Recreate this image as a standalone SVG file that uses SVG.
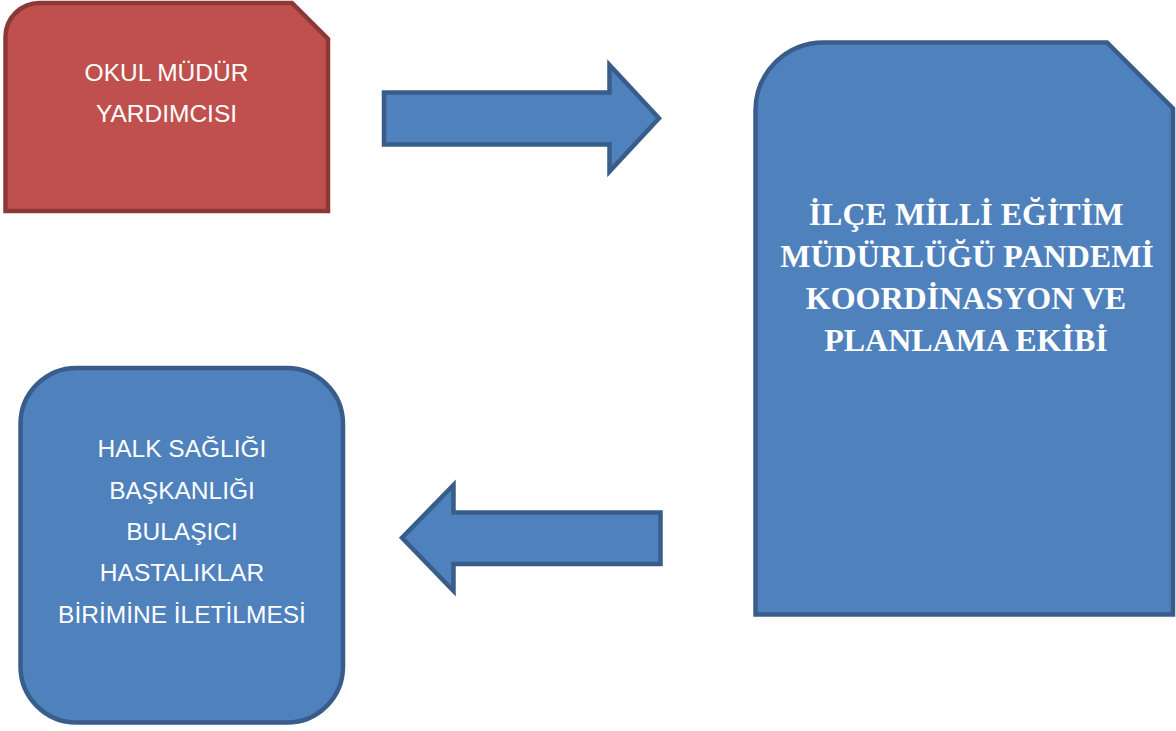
<svg xmlns="http://www.w3.org/2000/svg" width="1176" height="731" viewBox="0 0 1176 731">
<style>
.red{fill:#C0504D;stroke:#8C3836;stroke-width:4.5;stroke-linejoin:miter}
.blue{fill:#4F81BD;stroke:#385D8A;stroke-width:4.5;stroke-linejoin:miter}
.t{font-family:"Liberation Sans",Arial,sans-serif;font-size:24.5px;fill:#FFFFFF;text-anchor:middle}
.tb{font-family:"Liberation Serif","Times New Roman",serif;font-size:32px;font-weight:bold;fill:#FFFFFF;text-anchor:middle}
</style>
<rect width="1176" height="731" fill="#FFFFFF"/>
<g id="node-okul">
<path class="red" d="M5.5,37 A34,34 0 0 1 39.5,3 H292 L328,39 V211 H5.5 Z"/>
<text class="t" x="166.5" y="81">OKUL MÜDÜR</text>
<text class="t" x="166.5" y="122">YARDIMCISI</text>
</g>
<g id="node-ilce">
<path class="blue" d="M755.5,110.5 A68,68 0 0 1 823.5,42.5 H1107 L1173,108.5 V614.5 H755.5 Z"/>
<text class="tb" x="966" y="225">İLÇE MİLLİ EĞİTİM</text>
<text class="tb" x="967" y="267">MÜDÜRLÜĞÜ PANDEMİ</text>
<text class="tb" x="966" y="309">KOORDİNASYON VE</text>
<text class="tb" x="966" y="351">PLANLAMA EKİBİ</text>
</g>
<g id="node-halk">
<rect class="blue" x="20.5" y="368" width="322.5" height="354.5" rx="56" ry="56"/>
<text class="t" x="182" y="457">HALK SAĞLIĞI</text>
<text class="t" x="182" y="499">BAŞKANLIĞI</text>
<text class="t" x="182" y="540">BULAŞICI</text>
<text class="t" x="182" y="581">HASTALIKLAR</text>
<text class="t" x="182" y="623">BİRİMİNE İLETİLMESİ</text>
</g>
<g id="connectors">
<path class="blue" d="M384,92.5 H609.5 V65 L659,118.3 L609.5,171.5 V144.5 H384 Z"/>
<path class="blue" d="M660.5,512.5 H453.5 V485 L402,537.8 L453.5,591 V564 H660.5 Z"/>
</g>
</svg>
